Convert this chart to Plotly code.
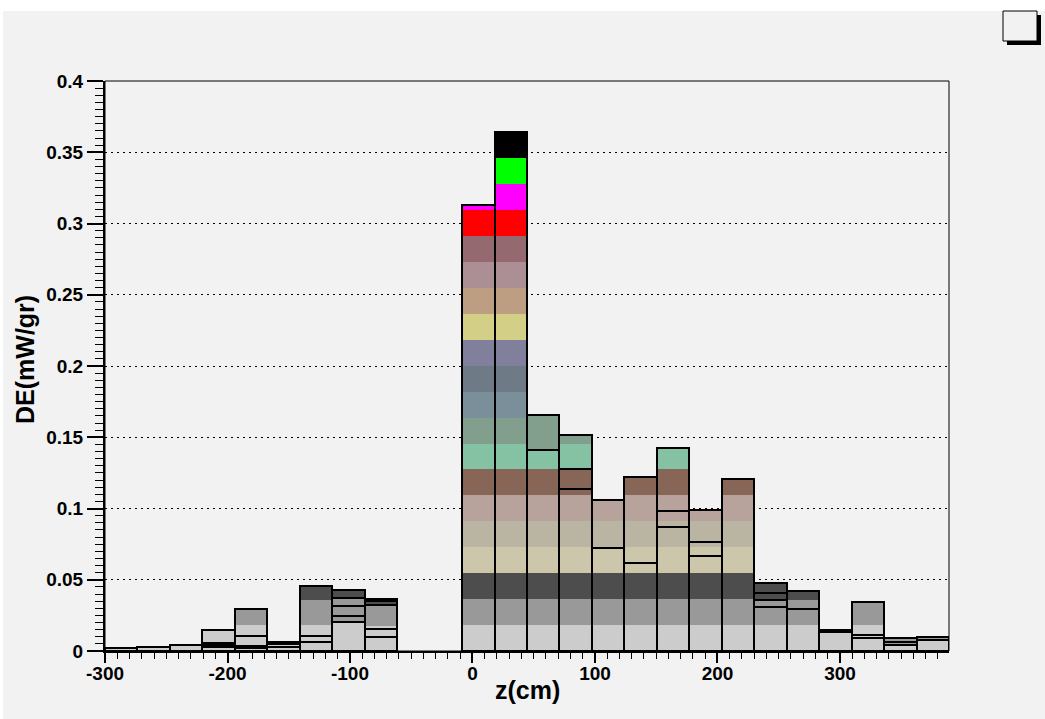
import numpy as np
import plotly.graph_objects as go

# ---- histogram binning -------------------------------------------------
z_lo, z_hi, n_bins = -300.0, 389.0, 26

# ---- fill colours of the stacked contributions (bottom -> top) ---------
layer_colors = [
    "#cccccc", "#999999", "#4d4d4d", "#ccc7ab", "#bab5a3", "#b8a39c",
    "#876657", "#85c2a3", "#829e8c", "#7a8f99", "#6e7a85", "#80809c",
    "#d4cf87", "#bd9e82", "#ab8f94", "#946970", "#ff0000", "#ff00ff",
    "#00ff00", "#000000",
]

# ---- deposited energy per bin for each contribution (mW/gr) ------------
#            b0      b1      b2      b3      b4      b5      b6      b7      b8    b9 b10  b11     b12     b13     b14     b15     b16     b17     b18     b19     b20     b21     b22     b23     b24     b25
layer_01 = [0.0019, 0.0026, 0.0044, 0.0147, 0.0182, 0.0065, 0.0182, 0.0201, 0.0175, 0, 0, 0.0182, 0.0182, 0.0182, 0.0182, 0.0182, 0.0182, 0.0182, 0.0182, 0.0182, 0.0182, 0.0182, 0.0135, 0.0182, 0.0042, 0.0079]
layer_02 = [0,      0,      0,      0,      0.0110, 0,      0.0176, 0.0169, 0.0148, 0, 0, 0.0182, 0.0182, 0.0182, 0.0182, 0.0182, 0.0182, 0.0182, 0.0182, 0.0182, 0.0176, 0.0176, 0.0012, 0.0160, 0.0052, 0.0019]
layer_03 = [0,      0,      0,      0,      0,      0,      0.0099, 0.0055, 0.0042, 0, 0, 0.0182, 0.0182, 0.0182, 0.0182, 0.0182, 0.0182, 0.0182, 0.0182, 0.0182, 0.0117, 0.0063, 0,      0,      0,      0]
layer_04 = [0,      0,      0,      0,      0,      0,      0,      0,      0,      0, 0, 0.0182, 0.0182, 0.0182, 0.0182, 0.0182, 0.0182, 0.0182, 0.0182, 0.0182, 0,      0,      0,      0,      0,      0]
layer_05 = [0,      0,      0,      0,      0,      0,      0,      0,      0,      0, 0, 0.0182, 0.0182, 0.0182, 0.0182, 0.0182, 0.0182, 0.0182, 0.0182, 0.0182, 0,      0,      0,      0,      0,      0]
layer_06 = [0,      0,      0,      0,      0,      0,      0,      0,      0,      0, 0, 0.0182, 0.0182, 0.0182, 0.0182, 0.0152, 0.0182, 0.0182, 0.0080, 0.0182, 0,      0,      0,      0,      0,      0]
layer_07 = [0,      0,      0,      0,      0,      0,      0,      0,      0,      0, 0, 0.0182, 0.0182, 0.0182, 0.0182, 0,      0.0131, 0.0182, 0,      0.0113, 0,      0,      0,      0,      0,      0]
layer_08 = [0,      0,      0,      0,      0,      0,      0,      0,      0,      0, 0, 0.0182, 0.0182, 0.0137, 0.0182, 0,      0,      0.0148, 0,      0,      0,      0,      0,      0,      0,      0]
layer_09 = [0,      0,      0,      0,      0,      0,      0,      0,      0,      0, 0, 0.0182, 0.0182, 0.0243, 0.0058, 0,      0,      0,      0,      0,      0,      0,      0,      0,      0,      0]
layer_10 = [0,      0,      0,      0,      0,      0,      0,      0,      0,      0, 0, 0.0182, 0.0182, 0,      0,      0,      0,      0,      0,      0,      0,      0,      0,      0,      0,      0]
layer_11 = [0,      0,      0,      0,      0,      0,      0,      0,      0,      0, 0, 0.0182, 0.0182, 0,      0,      0,      0,      0,      0,      0,      0,      0,      0,      0,      0,      0]
layer_12 = [0,      0,      0,      0,      0,      0,      0,      0,      0,      0, 0, 0.0182, 0.0182, 0,      0,      0,      0,      0,      0,      0,      0,      0,      0,      0,      0,      0]
layer_13 = [0,      0,      0,      0,      0,      0,      0,      0,      0,      0, 0, 0.0182, 0.0182, 0,      0,      0,      0,      0,      0,      0,      0,      0,      0,      0,      0,      0]
layer_14 = [0,      0,      0,      0,      0,      0,      0,      0,      0,      0, 0, 0.0182, 0.0182, 0,      0,      0,      0,      0,      0,      0,      0,      0,      0,      0,      0,      0]
layer_15 = [0,      0,      0,      0,      0,      0,      0,      0,      0,      0, 0, 0.0182, 0.0182, 0,      0,      0,      0,      0,      0,      0,      0,      0,      0,      0,      0,      0]
layer_16 = [0,      0,      0,      0,      0,      0,      0,      0,      0,      0, 0, 0.0182, 0.0182, 0,      0,      0,      0,      0,      0,      0,      0,      0,      0,      0,      0,      0]
layer_17 = [0,      0,      0,      0,      0,      0,      0,      0,      0,      0, 0, 0.0182, 0.0182, 0,      0,      0,      0,      0,      0,      0,      0,      0,      0,      0,      0,      0]
layer_18 = [0,      0,      0,      0,      0,      0,      0,      0,      0,      0, 0, 0.0036, 0.0182, 0,      0,      0,      0,      0,      0,      0,      0,      0,      0,      0,      0,      0]
layer_19 = [0,      0,      0,      0,      0,      0,      0,      0,      0,      0, 0, 0,      0.0182, 0,      0,      0,      0,      0,      0,      0,      0,      0,      0,      0,      0,      0]
layer_20 = [0,      0,      0,      0,      0,      0,      0,      0,      0,      0, 0, 0,      0.0182, 0,      0,      0,      0,      0,      0,      0,      0,      0,      0,      0,      0,      0]

# ---- outlined partial sums inside the stacks (None = no contour) -------
N = None
contour_a = [N, N, N, 0.0026, 0.0019, 0.0026, 0.0065, 0.0201, 0.0100, N, N, N, N, 0.1411, 0.1138, 0.0720, 0.0615, 0.0868, 0.0664, N, 0.0307, 0.0292, 0.0135, 0.0094, 0.0042, 0.0079]
contour_b = [N, N, N, 0.0040, 0.0035, 0.0047, 0.0103, 0.0248, 0.0152, N, N, N, N, N,      0.1274, N,      N,      0.0985, 0.0763, N, 0.0355, N,      N,      0.0110, 0.0065, N]
contour_c = [N, N, N, 0.0058, 0.0105, N,      N,      0.0318, 0.0323, N, N, N, N, N,      N,      N,      N,      N,      N,      N, 0.0410, N,      N,      N,      N,      N]
contour_d = [N, N, N, N,      N,      N,      N,      0.0370, 0.0353, N, N, N, N, N,      N,      N,      N,      N,      N,      N, N,      N,      N,      N,      N,      N]

# ---- axis ticks --------------------------------------------------------
x_tick_vals = [-300, -200, -100, 0, 100, 200, 300]
x_tick_text = [str(v) for v in x_tick_vals]
y_tick_vals = [0, 0.05, 0.1, 0.15, 0.2, 0.25, 0.3, 0.35, 0.4]
y_tick_text = ["0", "0.05", "0.1", "0.15", "0.2", "0.25", "0.3", "0.35", "0.4"]

layers = [layer_01, layer_02, layer_03, layer_04, layer_05, layer_06, layer_07,
          layer_08, layer_09, layer_10, layer_11, layer_12, layer_13, layer_14,
          layer_15, layer_16, layer_17, layer_18, layer_19, layer_20]
contours = [contour_a, contour_b, contour_c, contour_d]

bin_w = (z_hi - z_lo) / n_bins
centers = z_lo + (np.arange(n_bins) + 0.5) * bin_w

vals = np.array(layers, dtype=float)
bases = np.vstack([np.zeros(n_bins), np.cumsum(vals, axis=0)[:-1]])
totals = vals.sum(axis=0)

FONT = "Liberation Sans, Arial, Helvetica, sans-serif"
fig = go.Figure()

# stacked coloured contributions
for v, b, col in zip(vals, bases, layer_colors):
    y = [val if val > 0 else None for val in v]
    fig.add_trace(go.Bar(x=centers, y=y, base=b, width=bin_w,
                         marker=dict(color=col, line=dict(width=0)),
                         showlegend=False, hoverinfo="skip"))

# black contours: inner partial sums, then the stack total
outline = dict(color="rgba(0,0,0,0)", line=dict(color="#000000", width=2))
for c in contours:
    fig.add_trace(go.Bar(x=centers, y=c, base=0, width=bin_w, marker=outline,
                         showlegend=False, hoverinfo="skip"))
fig.add_trace(go.Bar(x=centers, y=[t if t > 0 else None for t in totals],
                     base=0, width=bin_w, marker=outline,
                     showlegend=False, hoverinfo="skip"))

PX_L, PX_R, PX_T, PX_B = 105, 949, 81, 651
W, H = 1045, 719


def px_x(px):
    return (px - PX_L) / (PX_R - PX_L)


def px_y(py):
    return (PX_B - py) / (PX_B - PX_T)


shapes = [
    # canvas pad
    dict(type="rect", xref="paper", yref="paper", layer="below",
         x0=px_x(3), x1=px_x(W + 5), y0=px_y(H + 5), y1=px_y(11),
         fillcolor="#f2f2f2", line=dict(width=0)),
    # frame
    dict(type="rect", xref="paper", yref="paper", layer="above",
         x0=0, x1=1, y0=0, y1=1, line=dict(color="#000000", width=1)),
    # empty legend box with shadow
    dict(type="rect", xref="paper", yref="paper", layer="above",
         x0=px_x(1007), x1=px_x(1041), y0=px_y(45), y1=px_y(15),
         fillcolor="#000000", line=dict(width=0)),
    dict(type="rect", xref="paper", yref="paper", layer="above",
         x0=px_x(1003), x1=px_x(1037), y0=px_y(41), y1=px_y(11),
         fillcolor="#f2f2f2", line=dict(color="#000000", width=1)),
]

annotations = [
    dict(text="<b>z(cm)</b>", xref="paper", yref="paper", x=0.5, y=px_y(690),
         xanchor="center", yanchor="middle", showarrow=False,
         font=dict(family=FONT, size=25, color="#000000")),
    dict(text="<b>DE(mW/gr)</b>", xref="paper", yref="paper", x=px_x(25),
         y=px_y(360), xanchor="center", yanchor="middle", textangle=-90,
         showarrow=False, font=dict(family=FONT, size=25, color="#000000")),
]

tick_font = dict(family=FONT, size=19, color="#000000", weight="bold")

fig.update_layout(
    width=W, height=H,
    margin=dict(l=PX_L, r=W - PX_R, t=PX_T, b=H - PX_B, pad=0),
    paper_bgcolor="#ffffff", plot_bgcolor="#f2f2f2",
    barmode="overlay", bargap=0,
    shapes=shapes, annotations=annotations, showlegend=False,
    xaxis=dict(range=[z_lo, z_hi], tickvals=x_tick_vals, ticktext=x_tick_text,
               ticks="outside", ticklen=10, tickwidth=1.5, tickcolor="#000000",
               ticklabelstandoff=-6,
               minor=dict(dtick=10, tick0=0, ticks="outside", ticklen=6,
                          tickwidth=1.2, tickcolor="#000000", showgrid=False),
               showline=True, linewidth=2, linecolor="#000000",
               showgrid=False, zeroline=False, tickfont=tick_font),
    yaxis=dict(range=[0, 0.4], tickvals=y_tick_vals, ticktext=y_tick_text,
               ticks="outside", ticklen=16, tickwidth=1.5, tickcolor="#000000",
               minor=dict(dtick=0.005, tick0=0, ticks="outside", ticklen=8,
                          tickwidth=1.2, tickcolor="#000000", showgrid=False),
               showline=True, linewidth=2, linecolor="#000000",
               showgrid=True, gridcolor="#000000", griddash="2px,4px",
               gridwidth=1, zeroline=False, tickfont=tick_font),
)

fig.write_html("out.html")
